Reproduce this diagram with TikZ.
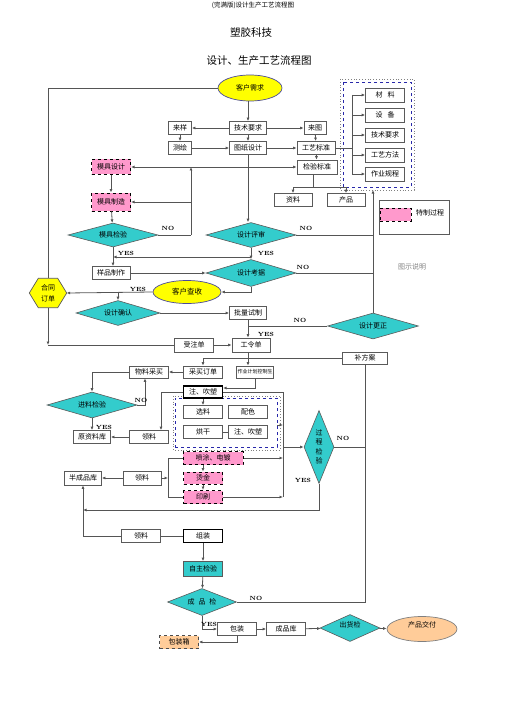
\documentclass[tikz,border=0pt]{standalone}
\usepackage{fontspec}
\newfontfamily\cjk{Noto Sans CJK SC}
\usetikzlibrary{shapes.geometric,arrows.meta}
\definecolor{lc}{RGB}{85,85,85}
\definecolor{bc}{RGB}{90,90,90}
\definecolor{tealc}{RGB}{51,204,204}
\definecolor{yelc}{RGB}{255,255,0}
\definecolor{pinkc}{RGB}{255,153,204}
\definecolor{orc}{RGB}{255,204,153}
\definecolor{bluec}{RGB}{40,40,170}
\begin{document}
\begin{tikzpicture}[x=1pt,y=-1pt,
  font=\cjk\fontsize{7}{8}\selectfont,
  ln/.style={draw=lc,line width=0.8pt},
  arr/.style={ln,-{Latex[length=3.5pt,width=3pt]}},
  bx/.style={rectangle,draw=bc,line width=0.7pt,fill=white,inner sep=0pt,minimum width=38pt,minimum height=13pt},
  thk/.style={bx,draw=black,line width=1.1pt},
  pk/.style={bx,fill=pinkc,draw=black,dashed,line width=1pt},
  dia/.style={diamond,draw=bc,line width=0.6pt,fill=tealc,inner sep=0pt},
  ell/.style={ellipse,draw=bluec!60!gray,line width=0.7pt,inner sep=0pt},
  yn/.style={font=\rmfamily\bfseries\fontsize{6}{6}\selectfont}
]
\useasboundingbox (0,0) rectangle (505,714);
% titles
\node (h0) at (253,5) {\fontsize{6.5}{7}\selectfont (完满版)设计生产工艺流程图};
\node (h1) at (251,33) {\fontsize{10.5}{12}\selectfont 塑胶科技};
\node (h2) at (259,61) {\fontsize{10.5}{12}\selectfont 设计、生产工艺流程图};

% groups
\draw[gray,dotted,line width=0.8pt] (340,79) rectangle (414,190);
\draw[bluec,dashed,line width=0.7pt] (343,82) rectangle (411,187);
\draw[gray,dotted,line width=0.8pt] (173,396) rectangle (280,450);
\node[draw=bluec,dashed,line width=0.7pt,minimum width=102pt,minimum height=49pt,inner sep=0pt] (grpI) at (226,422.5) {};

% top part
\node[ell,fill=yelc,minimum width=64pt,minimum height=26pt] (kh) at (250,88) {客户需求};
\node[bx,minimum width=37pt] (jsyq) at (248,128) {技术要求};
\node[bx,minimum width=23pt] (ly) at (180,128) {来样};
\node[bx,minimum width=23pt] (ch) at (180,148) {测绘};
\node[bx,minimum width=37pt] (tzsj) at (248,148) {图纸设计};
\node[bx,minimum width=22pt] (lt) at (315,128) {来图};
\node[bx] (gybz) at (316,148) {工艺标准};
\node[bx,minimum width=40pt,minimum height=14pt] (jybz) at (317,167) {检验标准};
\node[bx,minimum width=39pt,minimum height=14pt] (g1) at (385,95) {材\hspace{5pt}料};
\node[bx,minimum width=39pt,minimum height=14pt] (g2) at (385,115) {设\hspace{5pt}备};
\node[bx,minimum width=39pt,minimum height=14pt] (g3) at (385,135) {技术要求};
\node[bx,minimum width=39pt,minimum height=14pt] (g4) at (385,155) {工艺方法};
\node[bx,minimum width=39pt,minimum height=14pt] (g5) at (385,174) {作业规程};
\node[bx] (zl) at (293,200) {资料};
\node[bx] (cp) at (346,200) {产品};
\node[pk,minimum width=39pt,minimum height=15pt] (mjsj) at (111,167) {模具设计};
\node[pk,minimum width=39pt,minimum height=18pt] (mjzz) at (111,202) {模具制造};
\node[dia,minimum width=90pt,minimum height=24pt,label={center:模具检验}] (mjjy) at (113,235) {};
\node[dia,minimum width=90pt,minimum height=25pt,label={center:设计评审}] (sjps) at (251,235) {};
\node[dia,minimum width=90pt,minimum height=27pt,label={center:设计考据}] (sjkj) at (251,273) {};
\node[bx] (ypzz) at (111,273) {样品制作};
\node[ell,fill=yelc,minimum width=68pt,minimum height=23pt] (khcs) at (187,292) {\fontsize{7.5}{8}\selectfont 客户查收};
\node[minimum width=37pt,minimum height=29pt,inner sep=0pt] (htdd) at (48,293) {};
\filldraw[fill=yelc,draw=bc,line width=0.7pt] (htdd.west) -- ([xshift=9pt]htdd.north west) -- ([xshift=-9pt]htdd.north east) -- (htdd.east) -- ([xshift=-9pt]htdd.south east) -- ([xshift=9pt]htdd.south west) -- cycle;
\node[align=center,font=\cjk\fontsize{7}{11}\selectfont] (htddt) at (htdd) {合同\\订单};
\node[dia,minimum width=84pt,minimum height=25pt,label={center:设计确认}] (sjqr) at (118,313) {};
\node[bx,minimum width=37pt] (plsz) at (248,313) {批量试制};
\node[dia,minimum width=91pt,minimum height=26pt,label={center:设计更正}] (sjgz) at (373,326) {};
\node[bx,minimum height=14pt] (gld) at (251,345) {工令单};
\node[bx,minimum width=39pt,minimum height=14pt] (szd) at (194,345) {受注单};
% legend
\node[draw=bc,line width=0.7pt,minimum width=70pt,minimum height=34pt,inner sep=0pt] (leg) at (414,217) {};
\node[fill=pinkc,draw=black,dashed,line width=1pt,minimum width=31pt,minimum height=13pt,inner sep=0pt] (legs) at (395.5,214.5) {};
\node (legt) at (430,213) {特制过程};
\node (tssm) at (412,267) {\color{gray}图示说明};

% production part
\node[bx,minimum width=45pt,minimum height=12pt] (bfa) at (365,358) {补方案};
\node[bx,minimum width=39pt,minimum height=12pt] (mdd) at (203,372) {采买订单};
\node[bx,minimum width=37pt,minimum height=12pt] (zyjh) at (255,372) {\fontsize{5}{6}\selectfont 作业计划控制生};
\node[bx,minimum width=39pt,minimum height=12pt] (wlcm) at (149,372) {物料采买};
\node[dia,minimum width=90pt,minimum height=26pt,label={center:进料检验}] (jljy) at (92,405) {};
\node[bx,minimum width=37pt] (yzlk) at (92,437) {原资料库};
\node[bx,minimum width=39pt] (ll1) at (149,437) {领料};
\node[thk,minimum width=39pt,minimum height=12pt] (zcs1) at (203,392) {注、吹塑};
\node[bx,minimum width=39pt] (xl) at (203,412) {选料};
\node[bx,minimum width=39pt] (ps) at (248,412) {配色};
\node[bx,minimum width=39pt] (hg) at (203,432) {烘干};
\node[bx,minimum width=39pt] (zcs2) at (248,432) {注、吹塑};
\node[dia,minimum width=30pt,minimum height=73pt,label={[align=center,font=\cjk\fontsize{7}{9.5}\selectfont]center:过\\程\\检\\验}] (gcjy) at (319,447) {};
\node[bx,minimum width=37pt,minimum height=14pt] (bcpk) at (83,478) {半成品库};
\node[bx,minimum height=14pt] (ll2) at (142,478) {领料};
\node[pk,minimum width=60pt] (ptdd) at (213,458) {喷涂、电镀};
\node[pk,minimum width=39pt,minimum height=12pt] (tj) at (203,478) {烫金};
\node[pk,minimum width=39pt] (ys) at (203,497) {印刷};
\node[bx,minimum width=39pt] (ll3) at (141,536) {领料};
\node[thk,minimum width=39pt] (zz) at (203,536) {组装};
\node[bx,fill=tealc,minimum width=39pt,minimum height=15pt] (zzjy) at (203,569) {自主检验};
\node[dia,minimum width=69pt,minimum height=27pt,label={center:成\hspace{4pt}品\hspace{4pt}检}] (cpj) at (202,602) {};
\node[bx,minimum width=39pt] (bz) at (237,629) {包装};
\node[bx,minimum width=39pt] (cpk) at (286,629) {成品库};
\node[bx,fill=orc,dashed,draw=black!70,minimum width=39pt] (bzx) at (179,642) {包装箱};
\node[dia,minimum width=60pt,minimum height=27pt,label={[yshift=3pt]center:出货检}] (chj) at (350,628) {};
\node[ell,fill=orc,draw=gray,minimum width=70pt,minimum height=25pt,label={[yshift=4pt]center:产品交付}] (cpjf) at (422,629) {};

% ---------- connectors top ----------
\draw[arr] (kh.south -| jsyq.north) -- (jsyq.north);
\draw[arr] (jsyq) -- (ly);
\draw[arr] (ly) -- (ch);
\draw[arr] (ch) -- (tzsj);
\draw[arr] (jsyq) -- (lt);
\draw[arr] (jsyq) -- (tzsj);
\draw[arr] (tzsj) -- (gybz);
\draw[arr] (lt) -- (gybz);
\draw[arr] (gybz) -- (jybz);
\draw[arr] (tzsj.south) -- (tzsj.south |- sjps.north);
\coordinate (j168) at (tzsj.south |- jybz.west);
\draw[arr] (j168) -- (jybz.west);
\draw[arr] (j168) -- (mjsj.east);
\coordinate (bus) at (352,148);
\draw[ln] (gybz.east) -- (bus);
\draw[ln] (bus |- g1.west) -- (bus |- g5.west);
\foreach \g in {g1,g2,g3,g4,g5} \draw[arr] (bus |- \g.west) -- (\g.west);
\coordinate (jb) at (313,187);
\draw[ln] (jybz.south -| jb) -- (jb);
\draw[ln] (zl.north |- jb) -- (cp.north |- jb);
\draw[arr] (zl.north |- jb) -- (zl.north);
\draw[arr] (cp.north |- jb) -- (cp.north);
\draw[ln] (kh.west) -| (htdd.north);
\draw[arr] (mjsj) -- (mjzz);
\draw[arr] (mjzz) -- (mjjy);
\coordinate (mno) at (191,235);
\draw[ln] (mjjy.east) -- (mno);
\draw[arr] (mno) -- (mno |- j168);
\draw[arr] (mno |- mjzz.east) -- (mjzz.east);
\node[yn] (no1) at (168,228) {NO};
% right NO bus
\coordinate (rb) at (373,190);
\draw[arr] (sjgz.north) -- (rb);
\draw[ln] (sjps.east) -- (sjps.east -| rb);
\draw[ln] (sjkj.east) -- (sjkj.east -| rb);
\node[yn] (no2) at (306,228) {NO};
\node[yn] (no3) at (303,267) {NO};
\draw[arr] (sjps) -- (sjkj);
\node[yn] (yes1) at (266,253) {YES};
\coordinate (y257) at (251,257);
\draw[arr] (y257) -- (y257 -| mjjy.south);
\draw[arr] (mjjy.south) -- (mjjy.south |- ypzz.north);
\node[yn] (yes2) at (126,253) {YES};
\draw[arr] (ypzz) -- (sjkj);
\draw[arr] (sjkj.south) |- (khcs.east);
\draw[arr] (khcs.west) -- (htdd.east);
\draw[arr] (khcs.west -| sjqr.north) -- (sjqr.north);
\node[yn] (yes3) at (138,289) {YES};
\draw[arr] (sjqr) -- (plsz);
\draw[arr] (plsz) -- (plsz |- gld.north);
\draw[ln] (sjgz.west) -- (sjgz.west -| plsz.south);
\node[yn] (no4) at (300,320) {NO};
\node[yn] (yes4) at (266,334) {YES};
\draw[arr] (szd) -- (gld);
\draw[arr] (htdd.south) -- (htdd.south |- szd.west);
\draw[ln] (htdd.south |- szd.west) -- (szd.west);

% ---------- production connectors ----------
\coordinate (g358) at (plsz.south |- bfa.west);
\draw[ln] (gld.south -| g358) -- (g358);
\draw[ln] (mdd.north |- bfa.west) -- (bfa.west);
\draw[arr] (mdd.north |- bfa.west) -- (mdd.north);
\draw[arr] (g358) -- (g358 |- zyjh.north);
\draw[ln] (bfa.south) -- (bfa.south |- cpj.east) -- (cpj.east);
\node[yn] (no5) at (256,598) {NO};
\draw[ln] (gcjy.east) -- (gcjy.east -| bfa.south);
\node[yn] (no6) at (343,438) {NO};
\draw[arr] (mdd) -- (wlcm);
\draw[arr] (wlcm.west) -| (jljy.north);
\draw[arr] (jljy.east) -| ([xshift=-4pt]wlcm.south);
\node[yn] (no7) at (141,400) {NO};
\draw[arr] (jljy.south) -- (yzlk.north);
\node[yn] (yes5) at (104,427) {YES};
\draw[arr] (ll1) -- (yzlk);
\draw[arr] (zcs1.west) -| ([xshift=12pt]ll1.north);
\draw[arr] (zyjh.south) |- ([yshift=4pt]zcs1.east);
\draw[arr] (zcs1.south) -- (xl.north);
\draw[ln] (hg) -- (zcs2);
\coordinate (vb) at (283,392);
\draw[ln] (zcs1.east) -- (vb) -- (vb |- ys.east);
\draw[arr] (grpI.east |- 0,425) -- (vb |- 0,425);
\draw[arr] (ptdd.east) -- (ptdd.east -| vb);
\draw[arr] (ys.east) -- (ys.east -| vb);
\draw[arr] (vb |- gcjy.west) -- (gcjy.west);
\draw[arr] (ptdd.south -| tj.north) -- (tj.north);
\draw[arr] (tj) -- (ys);
\coordinate (lb) at (168,478);
\draw[arr] (ll2.east) -- (lb);
\draw[ln] (lb |- ptdd.west) -- (lb |- ys.west);
\draw[ln] (lb |- ptdd.west) -- (ptdd.west);
\draw[ln] (lb |- ys.west) -- (ys.west);
\draw[arr] (ll2) -- (bcpk);
\node[yn] (yes6) at (303,480) {YES};
\draw[arr] (gcjy.south) |- (bcpk.south |- 0,510);
\draw[arr] (ll3.west) -| (bcpk.south);
\draw[ln] (zz) -- (ll3);
\draw[arr] (zz) -- (zzjy);
\draw[arr] (zzjy) -- (cpj);
\draw[arr] (cpj.south) |- (bz.west);
\node[yn] (yes7) at (209,624) {YES};
\draw[arr] (bz) -- (cpk);
\draw[arr] (cpk) -- (chj);
\draw[arr] (chj) -- (cpjf);
\draw[arr] (bz.south) |- (bzx.east);
\end{tikzpicture}
\end{document}
